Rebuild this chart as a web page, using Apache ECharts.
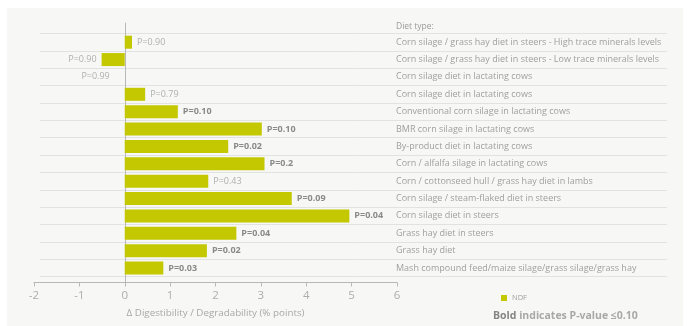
<!DOCTYPE html>
<html><head><meta charset="utf-8">
<script src="https://cdn.jsdelivr.net/npm/echarts@6/dist/echarts.min.js"></script>
<style>html,body{margin:0;padding:0;background:#fff}#c{width:692px;height:326px}</style>
</head><body><div id="c"></div>
<script>
const categories = [
  "Corn silage / grass hay diet in steers - High trace minerals levels",
  "Corn silage / grass hay diet in steers - Low trace minerals levels",
  "Corn silage diet in lactating cows",
  "Corn silage diet in lactating cows",
  "Conventional corn silage in lactating cows",
  "BMR corn silage in lactating cows",
  "By-product diet in lactating cows",
  "Corn / alfalfa silage in lactating cows",
  "Corn / cottonseed hull / grass hay diet in lambs",
  "Corn silage / steam-flaked diet in steers",
  "Corn silage diet in steers",
  "Grass hay diet in steers",
  "Grass hay diet",
  "Mash compound feed/maize silage/grass silage/grass hay"
];
const ndfValues = [0.16, -0.51, 0, 0.45, 1.17, 3.02, 2.28, 3.08, 1.84, 3.68, 4.95, 2.46, 1.81, 0.85];
const pLabels = ["P=0.90","P=0.90","P=0.99","P=0.79","P=0.10","P=0.10","P=0.02","P=0.2","P=0.43","P=0.09","P=0.04","P=0.04","P=0.02","P=0.03"];
const boldFlags = [false,false,false,false,true,true,true,true,false,true,true,true,true,true];
const xTicks = {min: -2, max: 6, interval: 1};

const FONT = "'Open Sans', sans-serif";
const GREEN = '#c3c800';
const gTop = 33.5, gBottom = 49.3;

const barData = ndfValues.map((v, i) => ({
  value: v,
  label: {
    show: true,
    formatter: pLabels[i],
    position: v > 0 ? 'right' : 'left',
    distance: v === 0 ? 15 : 5,
    fontFamily: FONT,
    fontSize: 9,
    fontWeight: boldFlags[i] ? 'bold' : 'normal',
    color: boldFlags[i] ? '#8a8a8a' : '#b0b0b0'
  }
}));

const chart = echarts.init(document.getElementById('c'), null, {renderer: 'canvas'});
chart.setOption({
  animation: false,
  backgroundColor: '#ffffff',
  graphic: [{type: 'rect', shape: {x: 7, y: 8, width: 676, height: 318}, style: {fill: '#f7f7f5'}, z: -10}],
  title: [
    {text: 'Diet type:', left: 391, top: 17, textStyle: {fontFamily: FONT, fontSize: 8.5, fontWeight: 'normal', color: '#9a9a9a'}},
    {text: '{b|Bold}{n| indicates P-value ≤0.10}', left: 488, top: 306,
     textStyle: {rich: {
       b: {fontFamily: FONT, fontSize: 10.5, fontWeight: 'bold', color: '#858585'},
       n: {fontFamily: FONT, fontSize: 10.5, color: '#a8a8a8'}
     }}}
  ],
  legend: {
    data: ['NDF'], left: 496, top: 289, itemWidth: 6, itemHeight: 6, icon: 'rect', itemGap: 4,
    textStyle: {fontFamily: FONT, fontSize: 7.5, color: '#a0a0a0'}
  },
  grid: [
    {left: 34, right: 295, top: gTop, bottom: gBottom},
    {left: 40, right: 25, top: gTop, bottom: gBottom},
    {left: 34, right: 295, top: 23, bottom: 43.5}
  ],
  xAxis: [
    {gridIndex: 0, type: 'value', min: xTicks.min, max: xTicks.max, interval: xTicks.interval, show: false},
    {gridIndex: 1, type: 'value', show: false},
    {gridIndex: 2, type: 'value', min: xTicks.min, max: xTicks.max, interval: xTicks.interval,
     axisLine: {show: true, onZero: false, lineStyle: {color: '#b8b8b8', width: 1}},
     axisTick: {show: true, length: 4, lineStyle: {color: '#b8b8b8'}},
     splitLine: {show: false},
     axisLabel: {fontFamily: FONT, fontSize: 11.5, color: '#adadad', margin: 7},
     name: 'Δ Digestibility / Degradability (% points)', nameLocation: 'middle', nameGap: 26,
     nameTextStyle: {fontFamily: FONT, fontSize: 9.8, color: '#a8a8a8'}}
  ],
  yAxis: [
    {gridIndex: 0, type: 'category', data: categories, inverse: true, show: false},
    {gridIndex: 1, type: 'category', data: categories, inverse: true,
     axisLine: {show: false}, axisTick: {show: false},
     splitLine: {show: true, lineStyle: {color: '#e2e2e2', width: 1}},
     axisLabel: {inside: true, margin: 356, fontFamily: FONT, fontSize: 9, color: '#a0a0a0'}},
    {gridIndex: 2, type: 'category', data: categories, inverse: true,
     axisLine: {show: true, onZero: true, lineStyle: {color: '#b8b8b8', width: 1}},
     axisTick: {show: false}, axisLabel: {show: false}, splitLine: {show: false}}
  ],
  series: [{
    name: 'NDF', type: 'bar', xAxisIndex: 0, yAxisIndex: 0,
    data: barData, barWidth: 13, itemStyle: {color: GREEN}
  }]
});
</script></body></html>
